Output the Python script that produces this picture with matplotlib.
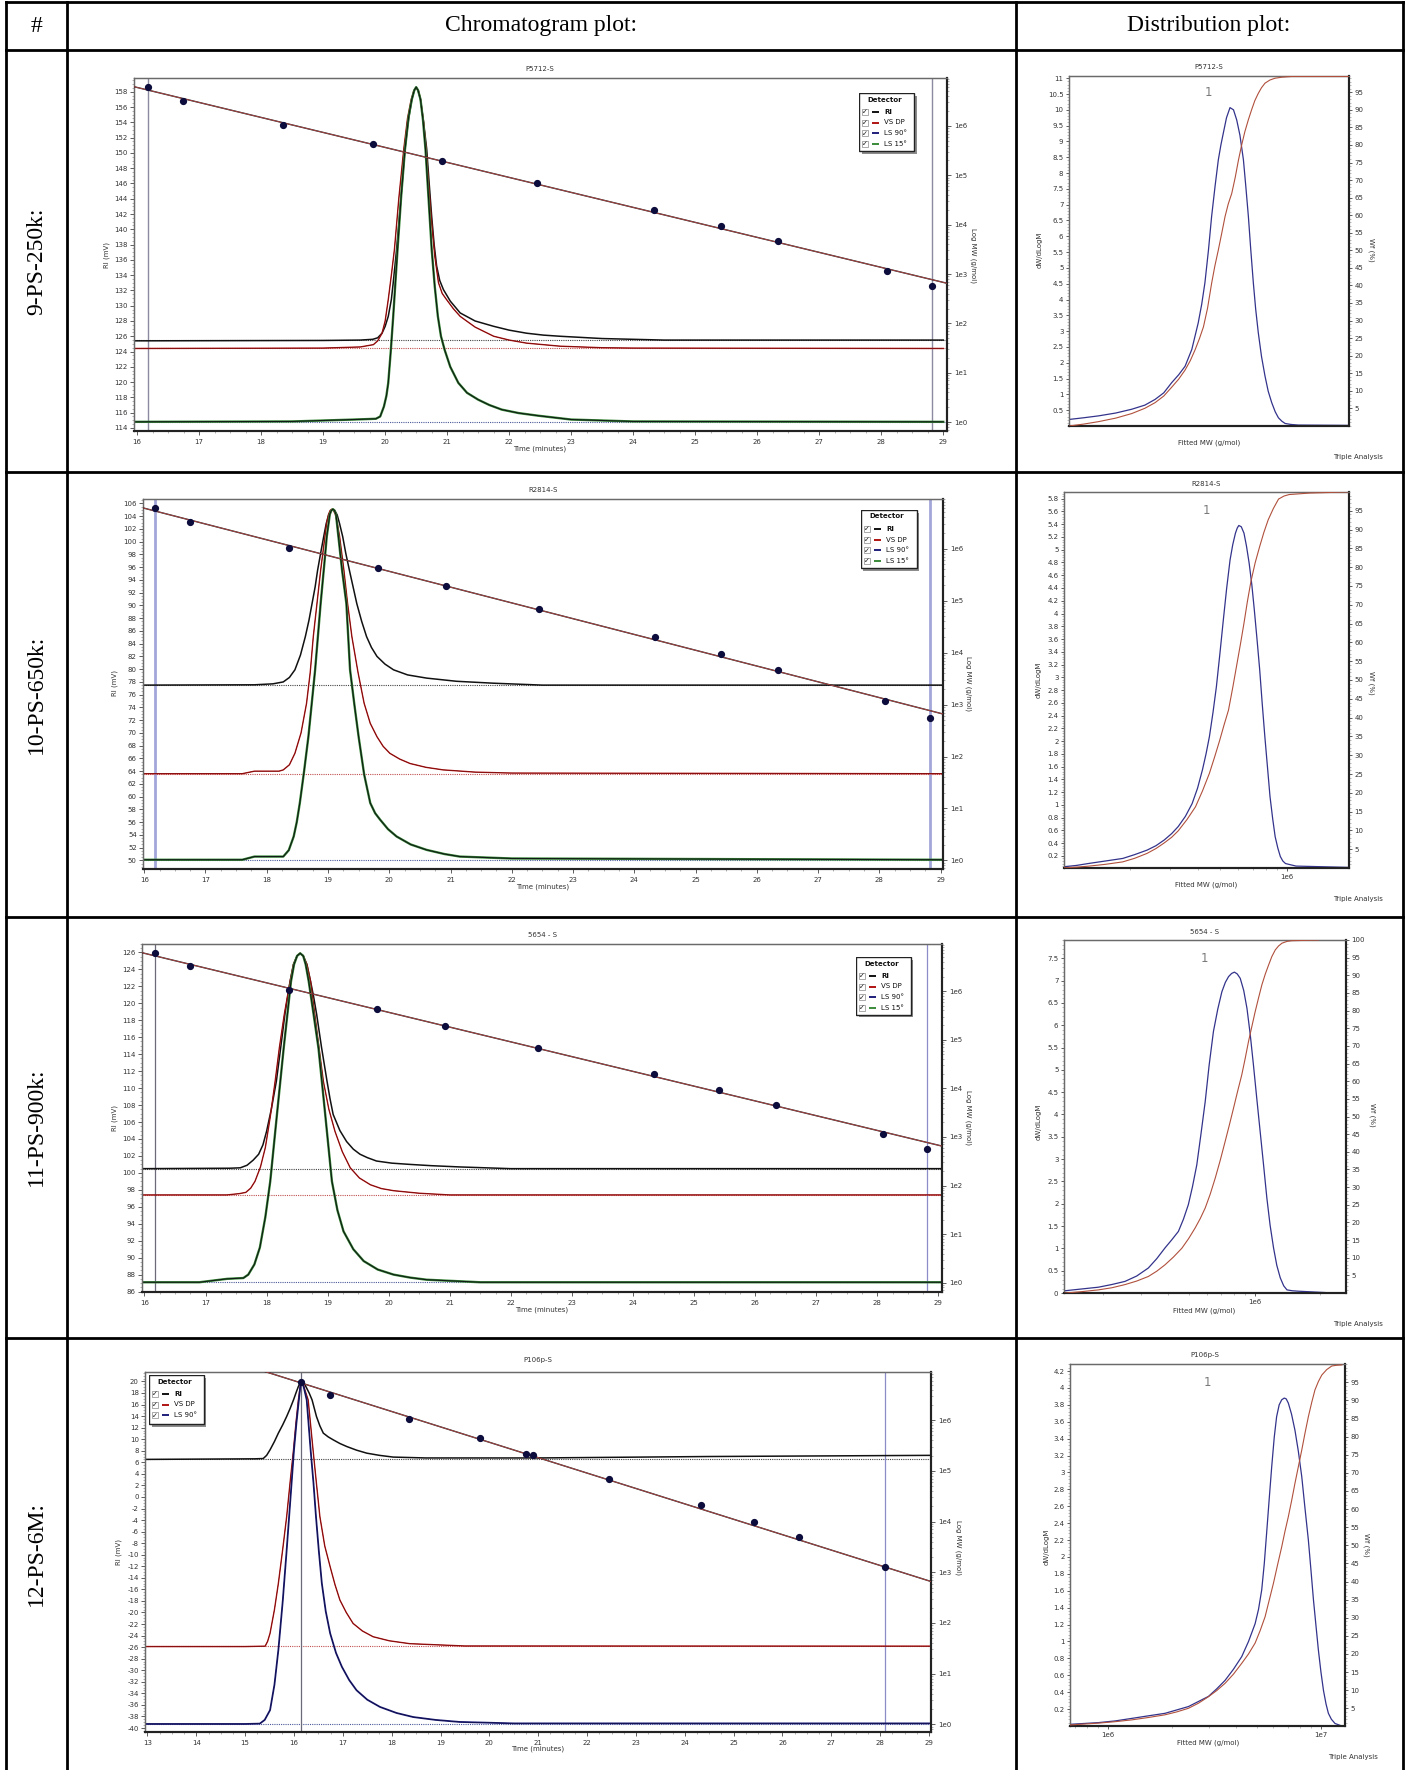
import numpy as np
import matplotlib
matplotlib.use("Agg")
import matplotlib.pyplot as plt
from matplotlib.patches import Rectangle
from matplotlib.lines import Line2D
from matplotlib.ticker import MultipleLocator, FixedLocator, LogLocator, NullFormatter, FuncFormatter, NullLocator

plt.rcParams['font.family'] = ['DejaVu Sans']
plt.rcParams['axes.unicode_minus'] = False

W, H = 1408, 1770

# ------------------------------------------------------------------ data
HEADERS = ["#", "Chromatogram plot:", "Distribution plot:"]
ROW_LABELS = ["9-PS-250k:", "10-PS-650k:", "11-PS-900k:", "12-PS-6M:"]
SAMPLES = ["P5712-S", "R2814-S", "5654 - S", "P106p-S"]
DETECTORS_4 = ["RI", "VS DP", "LS 90°", "LS 15°"]
DETECTORS_3 = ["RI", "VS DP", "LS 90°"]

# calibration standards (time, log MW)
CAL_T_A = [16.17, 16.74, 18.36, 19.81, 20.92, 22.45, 24.34, 25.41, 26.34, 28.10, 28.82]
CAL_LOGM_A = [6.78, 6.51, 6.02, 5.63, 5.29, 4.84, 4.30, 3.97, 3.66, 3.06, 2.75]
CAL_T_B = [16.15, 16.74, 18.36, 19.80, 20.75, 20.90, 22.45, 24.34, 25.41, 26.34, 28.10]
CAL_LOGM_B = [6.76, 6.50, 6.03, 5.64, 5.34, 5.31, 4.84, 4.33, 3.99, 3.70, 3.10]
# calibration fit line (time, log MW)
FIT_T = [12.9, 29.1]
FIT_LOGM = [7.72, 2.80]

# ---- row 1 chromatogram (time min, mV)
R1_RI_T = [15.95, 19.0, 19.6, 19.8, 19.88, 19.95, 20.0, 20.05, 20.1, 20.13, 20.18, 20.23, 20.28, 20.32, 20.37, 20.43, 20.47, 20.5, 20.53, 20.57, 20.62, 20.67, 20.71, 20.75, 20.79, 20.83, 20.88, 20.94, 21.05, 21.21, 21.45, 21.75, 22.0, 22.28, 22.55, 22.82, 23.5, 24.5, 29.0]
R1_RI_V = [125.4, 125.45, 125.5, 125.6, 125.8, 126.4, 127.3, 128.6, 130.8, 133.0, 137.0, 141.7, 146.5, 150.5, 154.0, 157.0, 158.2, 158.6, 158.2, 157.0, 154.0, 150.5, 146.0, 141.7, 138.0, 135.2, 133.3, 132.1, 130.6, 129.05, 128.0, 127.3, 126.8, 126.4, 126.15, 126.0, 125.7, 125.5, 125.5]
R1_VS_T = [15.95, 19.0, 19.6, 19.81, 19.88, 19.95, 20.0, 20.05, 20.1, 20.15, 20.22, 20.3, 20.36, 20.42, 20.46, 20.5, 20.54, 20.57, 20.62, 20.66, 20.7, 20.74, 20.8, 20.86, 20.92, 20.99, 21.1, 21.21, 21.45, 21.75, 22.0, 22.28, 22.82, 23.5, 24.0, 29.0]
R1_VS_V = [124.4, 124.45, 124.6, 124.9, 125.4, 126.4, 128.0, 130.8, 134.0, 137.4, 144.0, 150.5, 154.5, 157.0, 158.1, 158.5, 158.1, 157.0, 154.0, 150.5, 146.0, 141.7, 136.5, 133.0, 131.6, 130.8, 129.6, 128.6, 127.2, 126.0, 125.5, 125.1, 124.7, 124.5, 124.45, 124.4]
R1_LS_T = [15.95, 18.5, 19.5, 19.85, 19.92, 19.98, 20.02, 20.05, 20.09, 20.13, 20.2, 20.26, 20.32, 20.38, 20.43, 20.47, 20.5, 20.53, 20.57, 20.61, 20.65, 20.7, 20.75, 20.8, 20.85, 20.9, 20.96, 21.05, 21.18, 21.32, 21.5, 21.68, 21.88, 22.15, 22.47, 23.0, 24.0, 29.0]
R1_LS_V = [114.8, 114.85, 115.1, 115.2, 115.5, 116.8, 118.2, 119.9, 124.0, 128.6, 137.4, 144.5, 150.5, 154.8, 157.0, 158.2, 158.6, 158.2, 157.0, 154.3, 150.5, 144.0, 137.4, 132.5, 128.6, 126.0, 124.2, 122.0, 119.9, 118.6, 117.7, 117.0, 116.4, 115.95, 115.6, 115.1, 114.85, 114.8]

# ---- row 2 chromatogram
R2_RI_T = [15.98, 17.8, 18.1, 18.27, 18.37, 18.46, 18.55, 18.63, 18.69, 18.74, 18.79, 18.83, 18.88, 18.93, 18.97, 19.01, 19.05, 19.08, 19.11, 19.15, 19.19, 19.24, 19.29, 19.35, 19.41, 19.47, 19.55, 19.63, 19.71, 19.80, 19.93, 20.07, 20.3, 20.61, 21.1, 21.70, 22.5, 29.04]
R2_RI_V = [77.5, 77.55, 77.7, 78.0, 78.7, 79.9, 82.2, 85.1, 87.7, 90.3, 92.9, 95.5, 98.2, 100.8, 102.8, 104.2, 104.9, 105.1, 104.9, 104.2, 102.8, 100.8, 98.2, 95.5, 92.9, 90.3, 87.5, 85.1, 83.4, 82.0, 80.8, 79.9, 79.1, 78.6, 78.1, 77.8, 77.5, 77.5]
R2_VS_T = [15.98, 17.6, 17.8, 18.2, 18.27, 18.37, 18.46, 18.56, 18.65, 18.71, 18.76, 18.82, 18.88, 18.95, 18.98, 19.01, 19.035, 19.06, 19.09, 19.12, 19.15, 19.19, 19.26, 19.32, 19.39, 19.49, 19.59, 19.69, 19.80, 19.9, 20.01, 20.17, 20.34, 20.6, 20.88, 21.4, 22.0, 29.04]
R2_VS_V = [63.6, 63.6, 64.0, 64.0, 64.2, 65.0, 66.8, 70.0, 74.65, 79.5, 85.1, 90.3, 95.5, 100.8, 103.0, 104.3, 104.9, 105.1, 104.9, 104.3, 103.0, 100.8, 95.5, 90.3, 85.1, 79.5, 74.65, 71.5, 69.4, 67.9, 66.8, 65.9, 65.2, 64.6, 64.2, 63.85, 63.7, 63.6]
R2_LS_T = [15.98, 17.6, 17.8, 18.27, 18.36, 18.44, 18.49, 18.54, 18.61, 18.68, 18.79, 18.88, 18.94, 18.98, 19.03, 19.055, 19.08, 19.105, 19.13, 19.17, 19.23, 19.30, 19.36, 19.43, 19.50, 19.59, 19.69, 19.77, 19.85, 19.98, 20.12, 20.35, 20.61, 20.9, 21.15, 22.0, 29.04]
R2_LS_V = [50.1, 50.1, 50.6, 50.6, 51.6, 53.75, 56.0, 59.0, 64.0, 69.4, 79.9, 90.3, 96.5, 100.8, 104.3, 104.9, 105.1, 104.9, 104.3, 100.8, 95.5, 90.3, 79.9, 74.5, 69.4, 63.5, 59.0, 57.4, 56.4, 54.9, 53.75, 52.5, 51.65, 51.0, 50.6, 50.3, 50.1]

# ---- row 3 chromatogram
R3_RI_T = [15.96, 17.4, 17.57, 17.68, 17.78, 17.87, 17.94, 18.0, 18.08, 18.16, 18.23, 18.30, 18.385, 18.44, 18.5, 18.55, 18.6, 18.66, 18.72, 18.77, 18.82, 18.9, 18.99, 19.04, 19.09, 19.2, 19.31, 19.42, 19.53, 19.65, 19.80, 20.05, 20.35, 20.7, 21.17, 22.0, 29.06]
R3_RI_V = [100.5, 100.55, 100.6, 100.9, 101.5, 102.2, 103.3, 104.9, 107.6, 110.8, 114.7, 118.7, 122.6, 124.6, 125.6, 125.9, 125.6, 124.6, 122.6, 120.8, 118.7, 114.8, 110.8, 108.7, 106.9, 105.0, 103.7, 102.8, 102.2, 101.8, 101.4, 101.15, 101.0, 100.85, 100.7, 100.5, 100.5]
R3_VS_T = [15.96, 17.35, 17.55, 17.66, 17.74, 17.81, 17.9, 17.98, 18.06, 18.14, 18.21, 18.29, 18.385, 18.44, 18.5, 18.55, 18.6, 18.66, 18.72, 18.79, 18.86, 18.93, 19.02, 19.12, 19.24, 19.37, 19.52, 19.70, 19.88, 20.08, 20.5, 21.0, 29.06]
R3_VS_V = [97.4, 97.4, 97.55, 97.7, 98.2, 99.0, 100.7, 103.0, 106.6, 110.8, 114.8, 118.7, 122.6, 124.6, 125.6, 125.9, 125.6, 124.6, 122.6, 118.7, 114.7, 110.8, 107.5, 104.9, 102.5, 100.6, 99.4, 98.6, 98.15, 97.9, 97.6, 97.4, 97.4]
R3_LS_T = [15.96, 16.9, 17.35, 17.62, 17.70, 17.8, 17.89, 17.98, 18.06, 18.17, 18.28, 18.40, 18.45, 18.5, 18.55, 18.6, 18.64, 18.69, 18.77, 18.85, 18.96, 19.07, 19.16, 19.26, 19.42, 19.59, 19.82, 20.08, 20.35, 20.62, 21.5, 29.06]
R3_LS_V = [87.1, 87.1, 87.5, 87.6, 88.0, 89.2, 91.2, 94.8, 99.0, 106.9, 114.7, 122.6, 124.6, 125.6, 125.9, 125.6, 124.6, 122.6, 118.7, 114.7, 106.9, 99.0, 95.6, 93.1, 91.0, 89.6, 88.6, 88.0, 87.65, 87.4, 87.1, 87.1]

# ---- row 4 chromatogram
R4_RI_T = [12.95, 15.2, 15.37, 15.44, 15.51, 15.6, 15.68, 15.77, 15.85, 15.92, 15.99, 16.04, 16.09, 16.13, 16.16, 16.2, 16.25, 16.31, 16.37, 16.42, 16.46, 16.53, 16.60, 16.7, 16.80, 16.94, 17.08, 17.28, 17.49, 17.75, 18.03, 18.7, 21.0, 24.5, 29.04]
R4_RI_V = [6.5, 6.6, 6.65, 7.2, 8.16, 9.6, 11.05, 12.5, 13.93, 15.3, 16.8, 18.0, 19.13, 19.8, 20.0, 19.8, 19.0, 18.0, 16.8, 15.2, 13.93, 12.3, 11.05, 10.4, 9.9, 9.25, 8.73, 8.1, 7.58, 7.2, 6.9, 6.75, 6.75, 7.0, 7.2]
R4_VS_T = [12.95, 15.0, 15.41, 15.46, 15.51, 15.6, 15.68, 15.77, 15.85, 15.92, 15.99, 16.04, 16.09, 16.13, 16.16, 16.19, 16.22, 16.29, 16.34, 16.39, 16.46, 16.53, 16.63, 16.74, 16.84, 16.94, 17.07, 17.21, 17.4, 17.62, 17.95, 18.37, 19.5, 29.04]
R4_VS_V = [-25.9, -25.9, -25.83, -25.0, -23.6, -19.5, -14.96, -9.0, -3.41, 2.5, 8.16, 12.8, 16.8, 19.2, 20.0, 19.5, 18.6, 16.8, 12.5, 8.16, 2.3, -3.41, -8.5, -12.08, -15.2, -17.85, -20.0, -21.9, -23.2, -24.2, -24.9, -25.4, -25.8, -25.83]
R4_LS_T = [12.95, 15.0, 15.30, 15.4, 15.51, 15.6, 15.68, 15.77, 15.85, 15.93, 16.0, 16.05, 16.10, 16.13, 16.16, 16.2, 16.26, 16.3, 16.34, 16.4, 16.45, 16.51, 16.57, 16.65, 16.74, 16.86, 16.98, 17.13, 17.28, 17.5, 17.76, 18.1, 18.44, 18.9, 19.39, 20.5, 29.04]
R4_LS_V = [-39.3, -39.3, -39.24, -38.6, -36.9, -32.5, -26.5, -18.0, -9.2, 0.0, 8.16, 12.8, 16.8, 19.2, 20.0, 19.0, 16.8, 12.5, 8.16, 2.3, -3.41, -9.5, -14.96, -19.8, -23.6, -27.0, -29.4, -31.7, -33.46, -35.1, -36.35, -37.4, -38.1, -38.6, -38.95, -39.2, -39.2]

# baselines (mV) per row: RI, VS DP, LS
R1_BASE = [125.45, 124.45, 114.8]
R2_BASE = [77.5, 63.6, 50.1]
R3_BASE = [100.5, 97.4, 87.1]
R4_BASE = [6.65, -25.83, -39.24]

# integration markers (minutes)
R1_MARK = [16.17, 28.82]
R2_MARK = [16.17, 28.82]
R3_MARK = [16.17, 28.82]
R4_MARK = [16.15, 28.10]

# ---- distributions: dW/dLogM (blue) and cumulative Wf % (red), x = log10 MW
D1_B_LOGM = [5.023, 5.07, 5.121, 5.18, 5.235, 5.28, 5.315, 5.345, 5.372, 5.396, 5.418, 5.441, 5.463, 5.475, 5.486, 5.498, 5.509, 5.521, 5.532, 5.541, 5.549, 5.56, 5.572, 5.584, 5.595, 5.606, 5.618, 5.626, 5.635, 5.643, 5.652, 5.66, 5.669, 5.68, 5.692, 5.703, 5.715, 5.727, 5.738, 5.75, 5.761, 5.78, 5.806, 5.978]
D1_B_VAL = [0.21, 0.26, 0.32, 0.41, 0.53, 0.66, 0.84, 1.05, 1.37, 1.62, 1.89, 2.42, 3.26, 3.85, 4.53, 5.55, 6.63, 7.6, 8.42, 8.9, 9.26, 9.75, 10.07, 10.0, 9.68, 9.2, 8.42, 7.6, 6.63, 5.6, 4.53, 3.7, 2.95, 2.2, 1.58, 1.1, 0.74, 0.45, 0.26, 0.15, 0.08, 0.05, 0.03, 0.02]
D1_R_LOGM = [5.023, 5.07, 5.121, 5.18, 5.235, 5.28, 5.315, 5.345, 5.372, 5.396, 5.418, 5.436, 5.452, 5.467, 5.481, 5.495, 5.509, 5.52, 5.532, 5.544, 5.555, 5.566, 5.578, 5.59, 5.601, 5.612, 5.623, 5.635, 5.646, 5.657, 5.669, 5.68, 5.692, 5.709, 5.726, 5.75, 5.783, 5.978]
D1_R_VAL = [0.0, 0.5, 1.2, 2.2, 3.5, 5.0, 6.6, 8.5, 11.0, 13.3, 15.9, 18.6, 21.6, 24.8, 28.2, 33.5, 40.6, 45.5, 50.1, 55.0, 59.6, 63.2, 66.2, 70.8, 75.7, 80.0, 83.8, 87.2, 90.0, 92.6, 94.7, 96.3, 97.6, 98.5, 99.0, 99.3, 99.5, 99.5]

D2_B_LOGM = [5.005, 5.06, 5.113, 5.19, 5.267, 5.32, 5.375, 5.415, 5.452, 5.485, 5.514, 5.546, 5.576, 5.6, 5.622, 5.638, 5.653, 5.669, 5.684, 5.7, 5.715, 5.73, 5.745, 5.757, 5.769, 5.777, 5.784, 5.795, 5.807, 5.818, 5.830, 5.842, 5.853, 5.865, 5.877, 5.888, 5.900, 5.912, 5.923, 5.935, 5.946, 5.958, 5.969, 5.98, 5.992, 6.039, 6.270]
D2_B_VAL = [0.03, 0.05, 0.08, 0.12, 0.16, 0.22, 0.29, 0.36, 0.45, 0.55, 0.66, 0.82, 1.02, 1.26, 1.55, 1.8, 2.07, 2.45, 2.85, 3.38, 3.90, 4.40, 4.84, 5.08, 5.26, 5.34, 5.38, 5.36, 5.26, 5.06, 4.79, 4.45, 4.06, 3.6, 3.12, 2.6, 2.07, 1.58, 1.13, 0.78, 0.50, 0.32, 0.19, 0.12, 0.08, 0.04, 0.02]
D2_R_LOGM = [5.005, 5.06, 5.113, 5.19, 5.267, 5.32, 5.375, 5.415, 5.452, 5.485, 5.514, 5.553, 5.591, 5.622, 5.653, 5.676, 5.699, 5.718, 5.738, 5.757, 5.776, 5.792, 5.807, 5.822, 5.838, 5.857, 5.877, 5.896, 5.915, 5.938, 5.961, 5.985, 6.008, 6.1, 6.270]
D2_R_VAL = [0.06, 0.25, 0.5, 1.0, 1.65, 2.6, 3.9, 5.2, 6.7, 8.2, 9.9, 12.9, 16.3, 20.5, 25.2, 29.5, 34.0, 38.0, 42.0, 48.0, 54.4, 59.8, 65.1, 70.8, 76.2, 81.2, 85.5, 89.3, 92.6, 95.6, 98.1, 98.9, 99.3, 99.7, 100.0]

D3_B_LOGM = [5.123, 5.2, 5.278, 5.34, 5.401, 5.455, 5.509, 5.548, 5.586, 5.617, 5.648, 5.671, 5.694, 5.713, 5.733, 5.752, 5.772, 5.79, 5.810, 5.83, 5.849, 5.865, 5.880, 5.894, 5.907, 5.92, 5.934, 5.95, 5.965, 5.98, 5.995, 6.01, 6.026, 6.042, 6.057, 6.072, 6.088, 6.103, 6.119, 6.135, 6.150, 6.175, 6.204, 6.327]
D3_B_VAL = [0.05, 0.09, 0.13, 0.19, 0.26, 0.38, 0.56, 0.77, 1.01, 1.19, 1.38, 1.65, 1.98, 2.38, 2.87, 3.55, 4.29, 5.1, 5.86, 6.36, 6.75, 6.96, 7.09, 7.16, 7.19, 7.15, 7.05, 6.78, 6.38, 5.8, 5.11, 4.38, 3.62, 2.86, 2.13, 1.52, 1.01, 0.62, 0.34, 0.16, 0.07, 0.05, 0.04, 0.01]
D3_R_LOGM = [5.123, 5.2, 5.278, 5.34, 5.401, 5.455, 5.509, 5.548, 5.586, 5.625, 5.664, 5.695, 5.725, 5.749, 5.772, 5.795, 5.818, 5.841, 5.864, 5.884, 5.903, 5.922, 5.941, 5.957, 5.972, 5.988, 6.003, 6.019, 6.034, 6.05, 6.065, 6.08, 6.096, 6.111, 6.127, 6.15, 6.173, 6.296]
D3_R_VAL = [0.0, 0.4, 0.9, 1.5, 2.4, 3.4, 4.7, 6.2, 8.0, 10.2, 12.7, 15.4, 18.4, 21.1, 24.1, 28.0, 32.5, 37.5, 42.9, 47.7, 52.4, 57.2, 61.8, 66.5, 71.2, 75.6, 79.7, 83.7, 87.3, 90.4, 92.9, 95.3, 97.2, 98.3, 99.1, 99.6, 99.8, 100.0]

D4_B_LOGM = [5.823, 5.89, 5.956, 6.035, 6.113, 6.19, 6.269, 6.324, 6.379, 6.426, 6.473, 6.512, 6.551, 6.59, 6.629, 6.661, 6.692, 6.708, 6.723, 6.735, 6.746, 6.758, 6.770, 6.782, 6.793, 6.805, 6.817, 6.829, 6.838, 6.848, 6.863, 6.879, 6.895, 6.911, 6.926, 6.942, 6.954, 6.966, 6.978, 6.989, 7.001, 7.013, 7.025, 7.036, 7.05, 7.067, 7.099]
D4_B_VAL = [0.02, 0.03, 0.04, 0.06, 0.09, 0.12, 0.15, 0.19, 0.23, 0.29, 0.35, 0.44, 0.54, 0.67, 0.82, 1.0, 1.21, 1.38, 1.61, 1.92, 2.28, 2.68, 3.07, 3.42, 3.66, 3.80, 3.86, 3.88, 3.87, 3.82, 3.69, 3.50, 3.25, 2.95, 2.58, 2.20, 1.85, 1.49, 1.18, 0.90, 0.64, 0.42, 0.26, 0.15, 0.08, 0.03, 0.0]
D4_R_LOGM = [5.823, 5.89, 5.956, 6.035, 6.113, 6.19, 6.269, 6.324, 6.379, 6.426, 6.473, 6.512, 6.551, 6.59, 6.629, 6.661, 6.692, 6.716, 6.739, 6.758, 6.778, 6.797, 6.817, 6.832, 6.848, 6.864, 6.879, 6.895, 6.911, 6.926, 6.942, 6.958, 6.973, 6.989, 7.005, 7.028, 7.052, 7.075, 7.099]
D4_R_VAL = [0.4, 0.65, 0.9, 1.3, 1.8, 2.45, 3.2, 4.0, 5.0, 6.4, 8.2, 9.9, 11.9, 14.4, 17.4, 20.0, 23.0, 26.5, 30.3, 34.8, 39.5, 44.5, 49.6, 53.8, 57.9, 62.5, 67.1, 71.7, 76.3, 80.9, 85.5, 89.5, 92.9, 95.2, 97.0, 98.5, 99.5, 99.7, 99.8]

# ------------------------------------------------------------------ styles
C_RI = '#111111'
C_VS = '#b01414'
C_LS90 = '#1f1f7a'
C_LS15 = '#3a8a3a'
C_DB = '#33338c'
C_DR = '#b0503c'
TXT = '#333333'
FS = 5

fig = plt.figure(figsize=(W / 100, H / 100), dpi=100)
fig.patch.set_facecolor('white')


def px_box(x0, y0, x1, y1):
    return [x0 / W, 1 - y1 / H, (x1 - x0) / W, (y1 - y0) / H]


def ftext(x, y, s, **kw):
    kw.setdefault('ha', 'center')
    kw.setdefault('va', 'center')
    fig.text(x / W, 1 - y / H, s, **kw)


def style_spines(ax):
    for side in ['top', 'left']:
        ax.spines[side].set_color('#6a6a6a')
        ax.spines[side].set_linewidth(0.9)
    for side in ['bottom', 'right']:
        ax.spines[side].set_color('#222222')
        ax.spines[side].set_linewidth(1.5)


def draw_legend(box, names, colors):
    x0, y0, x1, y1 = box
    w, h = x1 - x0, y1 - y0
    lax = fig.add_axes(px_box(x0, y0, x1 + 3, y1 + 3), zorder=10)
    lax.set_xlim(0, w + 3)
    lax.set_ylim(h + 3, 0)
    lax.axis('off')
    lax.add_patch(Rectangle((2.5, 2.5), w, h, facecolor='#8c8c8c', edgecolor='none'))
    lax.add_patch(Rectangle((0, 0), w, h, facecolor='white', edgecolor='#222222', lw=1.0))
    lax.text(8, 6.5, 'Detector', fontsize=FS, fontweight='bold', va='center', ha='left', color='#111111')
    for i, (n, c) in enumerate(zip(names, colors)):
        y = 18.7 + i * 10.8
        lax.add_patch(Rectangle((3.3, y - 3), 6, 6, facecolor='white', edgecolor='#888888', lw=0.5))
        lax.text(6.3, y + 0.3, '\u2713', fontsize=5, ha='center', va='center', color='#111111')
        lax.plot([13, 20], [y, y], color=c, lw=1.4, solid_capstyle='butt')
        lax.text(25, y, n, fontsize=FS, va='center', ha='left', color='#111111',
                 fontweight='bold' if n == 'RI' else 'normal')


def draw_chrom(g, traces, bases, marks, mark_cols, cal_t, cal_logm, legend_names, legend_cols):
    ax = fig.add_axes(px_box(*g['box']))
    ax.set_xlim(*g['xlim'])
    ax.set_ylim(*g['ylim'])
    style_spines(ax)
    base_cols = ['#444444', '#c05050', '#4a5a9a']
    for b, c in zip(bases, base_cols):
        ax.plot(g['xlim'], [b, b], color=c, lw=0.8, ls=(0, (1, 1)), zorder=1)
    for m, mc in zip(marks, mark_cols):
        ax.axvline(m, color=mc[0], lw=mc[1], zorder=1.5)
    for tr in traces:
        t, v, cols = tr
        for c, lw in cols:
            ax.plot(t, v, color=c, lw=lw, solid_joinstyle='round', zorder=2)
    ax.xaxis.set_major_locator(MultipleLocator(1))
    ax.xaxis.set_minor_locator(MultipleLocator(0.25))
    ax.yaxis.set_major_locator(MultipleLocator(2))
    ax.yaxis.set_minor_locator(MultipleLocator(0.5))
    ax.tick_params(which='major', labelsize=FS, length=3, width=0.6, pad=1.5, colors='#444444', labelcolor=TXT)
    ax.tick_params(which='minor', length=1.5, width=0.4, colors='#777777')
    ax.tick_params(axis='x', which='major', pad=2.5)
    ax2 = ax.twinx()
    ax2.set_yscale('log')
    ax2.set_ylim(10 ** g['logy'][0], 10 ** g['logy'][1])
    style_spines(ax2)
    ax2.yaxis.set_major_locator(FixedLocator([10.0 ** k for k in range(0, 7)]))
    ax2.yaxis.set_major_formatter(FuncFormatter(lambda v, p: '1e%d' % int(round(np.log10(v)))))
    ax2.yaxis.set_minor_locator(LogLocator(base=10, subs=np.arange(2, 10)))
    ax2.yaxis.set_minor_formatter(NullFormatter())
    ax2.tick_params(which='major', labelsize=FS, length=3, width=0.6, pad=2, colors='#444444', labelcolor=TXT)
    ax2.tick_params(which='minor', length=1.5, width=0.4, colors='#777777')
    ax2.plot(FIT_T, 10 ** np.array(FIT_LOGM), color='#1a1a1a', lw=1.0, zorder=3)
    ax2.plot(FIT_T, 10 ** np.array(FIT_LOGM), color='#d05050', lw=0.5, zorder=3.1)
    ax2.plot(cal_t, 10 ** np.array(cal_logm), 'o', color='#0d0d3d', ms=4.2, mec='#0d0d3d', zorder=4)
    ax2.set_xlim(*g['xlim'])
    draw_legend(g['legend'], legend_names, legend_cols)
    return ax


def draw_dist(g, b_logm, b_val, r_logm, r_val):
    ax = fig.add_axes(px_box(*g['box']))
    ax.set_xscale('log')
    ax.plot(10 ** np.array(b_logm), b_val, color=C_DB, lw=0.9, zorder=3, solid_joinstyle='round')
    ax.set_xlim(10 ** g['lx'][0], 10 ** g['lx'][1])
    ax.set_ylim(*g['ylim'])
    style_spines(ax)
    ax.yaxis.set_major_locator(FixedLocator(g['yticks']))
    ax.yaxis.set_major_formatter(FuncFormatter(lambda v, p: '%g' % round(v, 2)))
    ax.yaxis.set_minor_locator(MultipleLocator(g['ystep'] / 5))
    if g['xminor']:
        ax.xaxis.set_major_locator(LogLocator(base=10))
        ax.xaxis.set_major_formatter(FuncFormatter(lambda v, p: '1e%d' % int(round(np.log10(v)))))
        ax.xaxis.set_minor_locator(LogLocator(base=10, subs=np.arange(2, 10)))
        ax.xaxis.set_minor_formatter(NullFormatter())
    else:
        ax.xaxis.set_major_locator(NullLocator())
        ax.xaxis.set_minor_locator(NullLocator())
    ax.tick_params(which='major', labelsize=FS, length=2.5, width=0.6, pad=1.5, colors='#444444', labelcolor=TXT)
    ax.tick_params(which='minor', length=1.2, width=0.4, colors='#888888')
    ax2 = ax.twinx()
    ax2.plot(10 ** np.array(r_logm), r_val, color=C_DR, lw=0.8, zorder=3, solid_joinstyle='round')
    ax2.set_ylim(*g['rlim'])
    style_spines(ax2)
    ax2.yaxis.set_major_locator(FixedLocator(g['rticks']))
    ax2.yaxis.set_minor_locator(MultipleLocator(1))
    ax2.tick_params(which='major', labelsize=FS, length=2.5, width=0.6, pad=1.5, colors='#444444', labelcolor=TXT)
    ax2.tick_params(which='minor', length=1.2, width=0.4, colors='#888888')
    ax2.set_xlim(10 ** g['lx'][0], 10 ** g['lx'][1])
    return ax


# ------------------------------------------------------------------ table grid
def hline(y, x0=6, x1=1403):
    fig.add_artist(Line2D([x0 / W, x1 / W], [1 - y / H, 1 - y / H], transform=fig.transFigure,
                          color='black', lw=2.0, solid_capstyle='projecting'))


def vline(x, y0=2, y1=1770):
    fig.add_artist(Line2D([x / W, x / W], [1 - y0 / H, 1 - y1 / H], transform=fig.transFigure,
                          color='black', lw=2.0, solid_capstyle='projecting'))


for y in [2, 50, 472, 917, 1338]:
    hline(y)
for x in [6, 67, 1015.5, 1403]:
    vline(x)

SERIF = ['Liberation Serif', 'DejaVu Serif']
ftext(36.5, 26, HEADERS[0], fontsize=17, family=SERIF)
ftext(541, 26, HEADERS[1], fontsize=17, family=SERIF)
ftext(1209, 26, HEADERS[2], fontsize=17, family=SERIF)
for lab, yc in zip(ROW_LABELS, [261, 694, 1127, 1554]):
    ftext(36.5, yc, lab, fontsize=17, family=SERIF, rotation=90)

# ------------------------------------------------------------------ chromatograms
LS_STYLE = [(C_LS15, 1.7), ('#0f1a14', 0.8)]
RI_STYLE = [(C_RI, 1.1)]
VS_STYLE = [(C_VS, 1.0), ('#5a0a0a', 0.3)]
LS90_STYLE = [(C_LS90, 1.3), ('#0a0a3a', 0.4)]

chrom_geo = [
    dict(box=(134, 78, 947, 431), xlim=(15.95, 29.06), ylim=(113.6, 159.8), logy=(-0.18, 6.97),
         legend=(859, 93, 914, 151)),
    dict(box=(143, 499, 943, 869), xlim=(15.98, 29.04), ylim=(48.65, 106.7), logy=(-0.165, 6.956),
         legend=(861, 510, 917, 568)),
    dict(box=(142, 944, 942, 1292), xlim=(15.96, 29.06), ylim=(85.95, 127.0), logy=(-0.19, 6.97),
         legend=(856, 957, 911, 1015)),
    dict(box=(145, 1372, 931, 1732), xlim=(12.95, 29.04), ylim=(-40.69, 21.63), logy=(-0.15, 6.95),
         legend=(149, 1375, 204, 1424)),
]
grey_m = ('#8a8aa0', 1.0)
lav_m = ('#a3a6d8', 2.0)
lav_thin = ('#8c8cc8', 0.9)
dark_m = ('#6a6a7a', 0.9)

draw_chrom(chrom_geo[0],
           [(R1_RI_T, R1_RI_V, RI_STYLE), (R1_VS_T, R1_VS_V, VS_STYLE), (R1_LS_T, R1_LS_V, LS_STYLE)],
           R1_BASE, R1_MARK, [grey_m, grey_m], CAL_T_A, CAL_LOGM_A,
           DETECTORS_4, [C_RI, C_VS, C_LS90, C_LS15])
draw_chrom(chrom_geo[1],
           [(R2_RI_T, R2_RI_V, RI_STYLE), (R2_VS_T, R2_VS_V, VS_STYLE), (R2_LS_T, R2_LS_V, LS_STYLE)],
           R2_BASE, R2_MARK, [lav_m, lav_m], CAL_T_A, CAL_LOGM_A,
           DETECTORS_4, [C_RI, C_VS, C_LS90, C_LS15])
draw_chrom(chrom_geo[2],
           [(R3_RI_T, R3_RI_V, RI_STYLE), (R3_VS_T, R3_VS_V, VS_STYLE), (R3_LS_T, R3_LS_V, LS_STYLE)],
           R3_BASE, R3_MARK, [dark_m, lav_thin], CAL_T_A, CAL_LOGM_A,
           DETECTORS_4, [C_RI, C_VS, C_LS90, C_LS15])
draw_chrom(chrom_geo[3],
           [(R4_RI_T, R4_RI_V, RI_STYLE), (R4_VS_T, R4_VS_V, VS_STYLE), (R4_LS_T, R4_LS_V, LS90_STYLE)],
           R4_BASE, R4_MARK, [dark_m, lav_thin], CAL_T_B, CAL_LOGM_B,
           DETECTORS_3, [C_RI, C_VS, C_LS90])

chrom_txt = [
    ((540, 69), (107, 255), (540, 449), (973, 255)),
    ((543, 490), (115, 683), (543, 887), (968, 683)),
    ((542, 935), (115, 1118), (542, 1310), (968, 1117)),
    ((538, 1360), (119, 1552), (538, 1749), (958, 1547)),
]
for s, (tp, rp, xp, lp) in zip(SAMPLES, chrom_txt):
    ftext(tp[0], tp[1], s, fontsize=FS, color=TXT)
    ftext(rp[0], rp[1], 'RI (mV)', fontsize=FS, color=TXT, rotation=90)
    ftext(xp[0], xp[1], 'Time (minutes)', fontsize=FS, color=TXT)
    ftext(lp[0], lp[1], 'Log MW (g/mol)', fontsize=FS, color=TXT, rotation=270)

# ------------------------------------------------------------------ distributions
dist_geo = [
    dict(box=(1069, 76, 1349, 426), lx=(5.02, 5.98), ylim=(0.0, 11.07), yticks=list(np.arange(0.5, 11.01, 0.5)),
         ystep=0.5, rlim=(-0.04, 99.64), rticks=list(range(5, 96, 5)), xminor=False),
    dict(box=(1064, 492, 1349, 868), lx=(5.005, 6.275), ylim=(0.01, 5.905), yticks=list(np.arange(0.2, 5.81, 0.2)),
         ystep=0.2, rlim=(0.02, 99.98), rticks=list(range(5, 96, 5)), xminor=True),
    dict(box=(1064, 940, 1346, 1293), lx=(5.119, 6.423), ylim=(0.0, 7.91), yticks=list(np.arange(0.0, 7.51, 0.5)),
         ystep=0.5, rlim=(0.02, 100.0), rticks=list(range(5, 101, 5)), xminor=True),
    dict(box=(1070, 1364, 1345, 1726), lx=(5.823, 7.114), ylim=(0.0, 4.283), yticks=list(np.arange(0.2, 4.21, 0.2)),
         ystep=0.2, rlim=(0.11, 100.05), rticks=list(range(5, 96, 5)), xminor=True),
]
draw_dist(dist_geo[0], D1_B_LOGM, D1_B_VAL, D1_R_LOGM, D1_R_VAL)
draw_dist(dist_geo[1], D2_B_LOGM, D2_B_VAL, D2_R_LOGM, D2_R_VAL)
draw_dist(dist_geo[2], D3_B_LOGM, D3_B_VAL, D3_R_LOGM, D3_R_VAL)
draw_dist(dist_geo[3], D4_B_LOGM, D4_B_VAL, D4_R_LOGM, D4_R_VAL)

dist_txt = [
    ((1209, 67), (1208, 93), (1040, 250), (1371, 250), (1209, 443), (1358, 457)),
    ((1206, 484), (1206, 511), (1039, 680), (1371, 683), (1206, 885), (1358, 899)),
    ((1204, 932), (1204, 958), (1039, 1122), (1372, 1115), (1204, 1311), (1358, 1324)),
    ((1205, 1355), (1207, 1382), (1047, 1547), (1366, 1545), (1208, 1743), (1353, 1757)),
]
for s, (tp, op, dp, wp, mp, ta) in zip(SAMPLES, dist_txt):
    ftext(tp[0], tp[1], s, fontsize=FS, color=TXT)
    ftext(op[0], op[1], '1', fontsize=8.5, color='#7a7a7a')
    ftext(dp[0], dp[1], 'dW/dLogM', fontsize=FS, color=TXT, rotation=90)
    ftext(wp[0], wp[1], 'Wf (%)', fontsize=FS, color=TXT, rotation=270)
    ftext(mp[0], mp[1], 'Fitted MW (g/mol)', fontsize=FS, color=TXT)
    ftext(ta[0], ta[1], 'Triple Analysis', fontsize=FS, color=TXT)

fig.savefig('out.png', dpi=100, facecolor='white')
